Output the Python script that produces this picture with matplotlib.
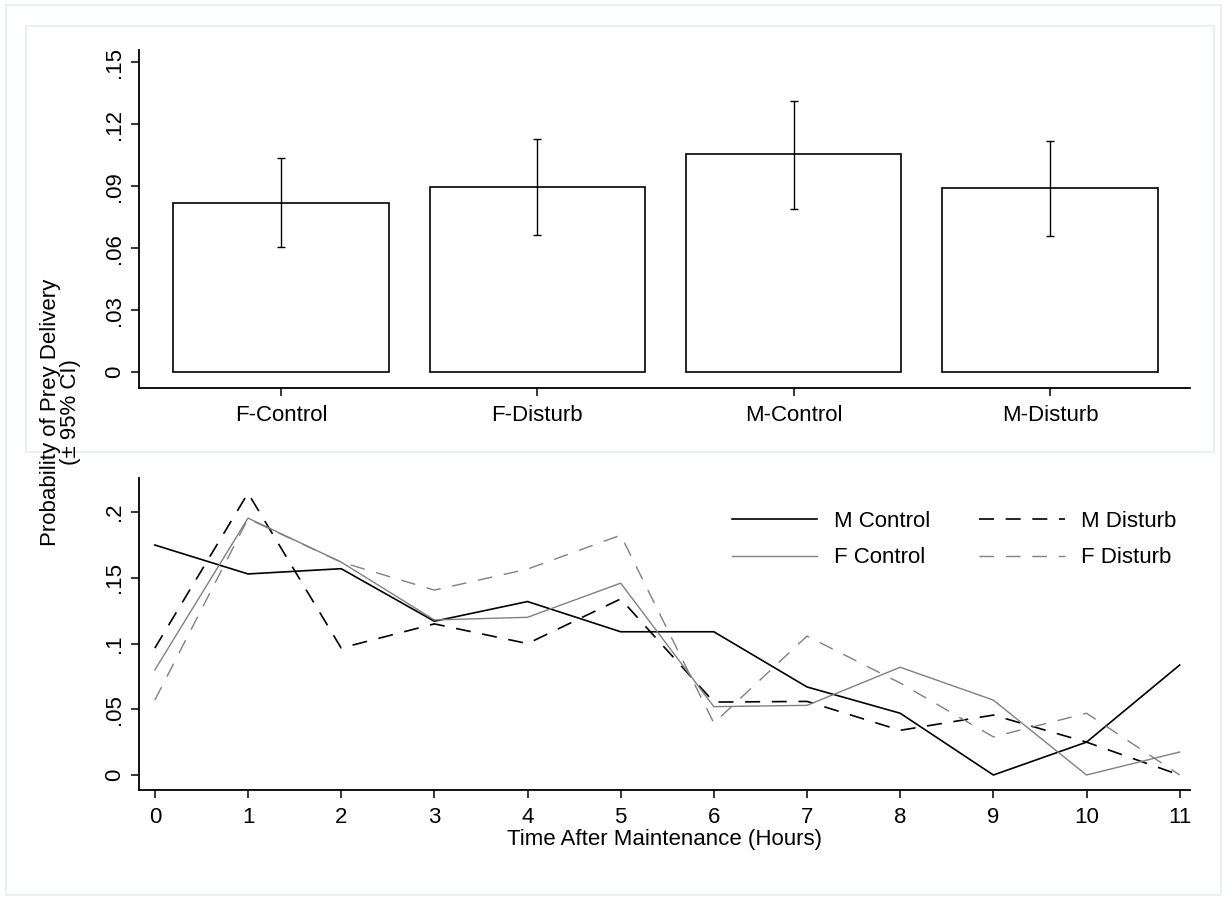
import matplotlib
matplotlib.use("Agg")
from matplotlib import pyplot as plt
from matplotlib.patches import Rectangle

plt.rcParams['font.family'] = ['Liberation Sans', 'DejaVu Sans']

# top panel: mean probability with 95% CI
groups = ['F-Control', 'F-Disturb', 'M-Control', 'M-Disturb']
means = [0.082, 0.0895, 0.1055, 0.089]
ci_low = [0.0605, 0.0663, 0.079, 0.0658]
ci_high = [0.1035, 0.1127, 0.1311, 0.1118]
bar_yticks = [0, 0.03, 0.06, 0.09, 0.12, 0.15]
bar_yticklabels = ['0', '.03', '.06', '.09', '.12', '.15']

# bottom panel: probability by hour
hours = list(range(12))
m_control = [0.175, 0.153, 0.157, 0.117, 0.132, 0.109, 0.109, 0.067, 0.047, 0.0, 0.025, 0.0837]
m_disturb = [0.0966, 0.2145, 0.0966, 0.115, 0.100, 0.134, 0.0555, 0.056, 0.034, 0.0456, 0.025, 0.0]
f_control = [0.080, 0.1955, 0.162, 0.118, 0.120, 0.146, 0.052, 0.053, 0.082, 0.057, 0.0, 0.0175]
f_disturb = [0.057, 0.195, 0.162, 0.1407, 0.1567, 0.1825, 0.0395, 0.1057, 0.070, 0.029, 0.047, 0.0]
line_yticks = [0, 0.05, 0.1, 0.15, 0.2]
line_yticklabels = ['0', '.05', '.1', '.15', '.2']

FS = 16
GRAY = '#808080'

fig = plt.figure(figsize=(12.28, 8.97), dpi=100)

# faint frames like the original export
fig.patches.append(Rectangle((6 / 1228, 1 - 895 / 897), 1215 / 1228, 890 / 897,
                             transform=fig.transFigure, fill=False,
                             edgecolor='#eaf0f0', linewidth=1.5))
fig.patches.append(Rectangle((26 / 1228, 1 - 452 / 897), 1188 / 1228, 426 / 897,
                             transform=fig.transFigure, fill=False,
                             edgecolor='#eaf0f0', linewidth=1.5))

ax1 = fig.add_axes([0.1132, 0.5674, 0.8558, 0.3769])
ax2 = fig.add_axes([0.1132, 0.1193, 0.8558, 0.3478])

for ax in (ax1, ax2):
    ax.spines['top'].set_visible(False)
    ax.spines['right'].set_visible(False)
    ax.spines['left'].set_linewidth(1.3)
    ax.spines['bottom'].set_linewidth(1.3)
    ax.tick_params(direction='out', length=6, width=1.1, labelsize=FS, pad=4)

# bars
x = list(range(len(groups)))
yerr = [[m - lo for m, lo in zip(means, ci_low)], [hi - m for m, hi in zip(means, ci_high)]]
ax1.bar(x, means, width=0.84, color='white', edgecolor='black', linewidth=1.2)
ax1.errorbar(x, means, yerr=yerr, fmt='none', ecolor='black', elinewidth=1.0,
             capsize=3, capthick=1.0)
ax1.set_xlim(-0.554, 3.546)
ax1.set_ylim(-0.0077, 0.156)
ax1.set_xticks(x)
ax1.set_xticklabels(groups)
ax1.tick_params(axis='x', pad=6)
ax1.set_yticks(bar_yticks)
ax1.set_yticklabels(bar_yticklabels, rotation=90, va='center')

# lines
ax2.plot(hours, m_control, color='black', linewidth=1.2, label='M Control')
ax2.plot(hours, m_disturb, color='black', linewidth=1.2, dashes=(9, 7), label='M Disturb')
ax2.plot(hours, f_control, color=GRAY, linewidth=1.0, label='F Control')
ax2.plot(hours, f_disturb, color=GRAY, linewidth=1.0, dashes=(10.5, 8.5), label='F Disturb')
ax2.set_xlim(-0.17, 11.11)
ax2.set_ylim(-0.0114, 0.226)
ax2.set_xticks(hours)
ax2.tick_params(axis='x', pad=6)
ax2.set_yticks(line_yticks)
ax2.set_yticklabels(line_yticklabels, rotation=90, va='center')
ax2.set_xlabel('Time After Maintenance (Hours)', fontsize=FS, labelpad=1)

# row-wise legend order: M Control, M Disturb / F Control, F Disturb
h, l = ax2.get_legend_handles_labels()
order = [0, 2, 1, 3]
ax2.legend([h[i] for i in order], [l[i] for i in order], ncol=2, frameon=False,
           fontsize=FS, loc='upper left', bbox_to_anchor=(0.564, 0.895),
           borderpad=0, borderaxespad=0, handlelength=3.85, handletextpad=0.75,
           columnspacing=2.2, labelspacing=0.7)

fig.text(0.049, 1 - 412 / 897, 'Probability of Prey Delivery\n(± 95% CI)',
         rotation=90, ha='center', va='center', fontsize=FS, linespacing=0.95)

fig.savefig('out.png', dpi=100, facecolor='white')
